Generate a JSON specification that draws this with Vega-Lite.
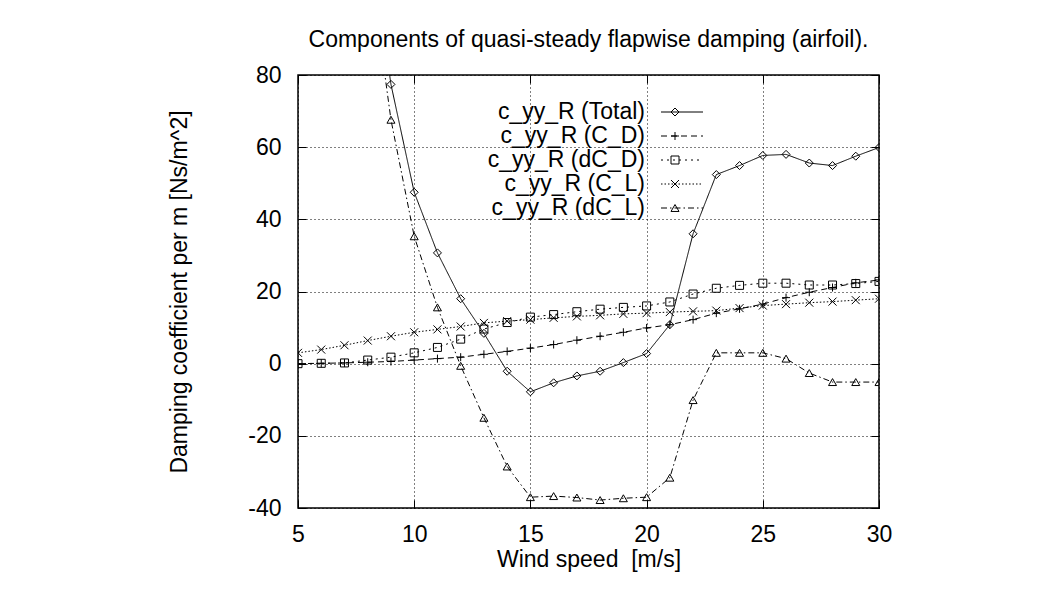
{
  "$schema": "https://vega.github.io/schema/vega-lite/v6.json",
  "width": 581,
  "height": 433,
  "autosize": {"type": "none"},
  "padding": {"left": 298, "top": 75, "right": 178, "bottom": 101},
  "background": "white",
  "title": {
    "text": "Components of quasi-steady flapwise damping (airfoil).",
    "font": "Liberation Sans",
    "fontSize": 23,
    "fontWeight": "normal",
    "color": "black",
    "anchor": "middle",
    "frame": "group",
    "offset": 12
  },
  "data": {
    "values": [
      {"speed": 5, "series": "c_yy_R (C_D)", "value": 0},
      {"speed": 6, "series": "c_yy_R (C_D)", "value": 0.1},
      {"speed": 7, "series": "c_yy_R (C_D)", "value": 0.2},
      {"speed": 8, "series": "c_yy_R (C_D)", "value": 0.4},
      {"speed": 9, "series": "c_yy_R (C_D)", "value": 0.6},
      {"speed": 10, "series": "c_yy_R (C_D)", "value": 1.0},
      {"speed": 11, "series": "c_yy_R (C_D)", "value": 1.4},
      {"speed": 12, "series": "c_yy_R (C_D)", "value": 1.8},
      {"speed": 13, "series": "c_yy_R (C_D)", "value": 2.6},
      {"speed": 14, "series": "c_yy_R (C_D)", "value": 3.4},
      {"speed": 15, "series": "c_yy_R (C_D)", "value": 4.3},
      {"speed": 16, "series": "c_yy_R (C_D)", "value": 5.3},
      {"speed": 17, "series": "c_yy_R (C_D)", "value": 6.5},
      {"speed": 18, "series": "c_yy_R (C_D)", "value": 7.6},
      {"speed": 19, "series": "c_yy_R (C_D)", "value": 8.7},
      {"speed": 20, "series": "c_yy_R (C_D)", "value": 9.9},
      {"speed": 21, "series": "c_yy_R (C_D)", "value": 10.8},
      {"speed": 22, "series": "c_yy_R (C_D)", "value": 12.2},
      {"speed": 23, "series": "c_yy_R (C_D)", "value": 14.0},
      {"speed": 24, "series": "c_yy_R (C_D)", "value": 15.2},
      {"speed": 25, "series": "c_yy_R (C_D)", "value": 16.5},
      {"speed": 26, "series": "c_yy_R (C_D)", "value": 18.3},
      {"speed": 27, "series": "c_yy_R (C_D)", "value": 19.8},
      {"speed": 28, "series": "c_yy_R (C_D)", "value": 21.1},
      {"speed": 29, "series": "c_yy_R (C_D)", "value": 22.4},
      {"speed": 30, "series": "c_yy_R (C_D)", "value": 23.2},

      {"speed": 5, "series": "c_yy_R (dC_D)", "value": 0},
      {"speed": 6, "series": "c_yy_R (dC_D)", "value": 0.1},
      {"speed": 7, "series": "c_yy_R (dC_D)", "value": 0.2},
      {"speed": 8, "series": "c_yy_R (dC_D)", "value": 1.0},
      {"speed": 9, "series": "c_yy_R (dC_D)", "value": 1.8},
      {"speed": 10, "series": "c_yy_R (dC_D)", "value": 3.0},
      {"speed": 11, "series": "c_yy_R (dC_D)", "value": 4.5},
      {"speed": 12, "series": "c_yy_R (dC_D)", "value": 6.8},
      {"speed": 13, "series": "c_yy_R (dC_D)", "value": 9.6},
      {"speed": 14, "series": "c_yy_R (dC_D)", "value": 11.4},
      {"speed": 15, "series": "c_yy_R (dC_D)", "value": 12.9},
      {"speed": 16, "series": "c_yy_R (dC_D)", "value": 13.6},
      {"speed": 17, "series": "c_yy_R (dC_D)", "value": 14.4},
      {"speed": 18, "series": "c_yy_R (dC_D)", "value": 15.1},
      {"speed": 19, "series": "c_yy_R (dC_D)", "value": 15.6},
      {"speed": 20, "series": "c_yy_R (dC_D)", "value": 16.0},
      {"speed": 21, "series": "c_yy_R (dC_D)", "value": 17.1},
      {"speed": 22, "series": "c_yy_R (dC_D)", "value": 19.3},
      {"speed": 23, "series": "c_yy_R (dC_D)", "value": 20.9},
      {"speed": 24, "series": "c_yy_R (dC_D)", "value": 21.7},
      {"speed": 25, "series": "c_yy_R (dC_D)", "value": 22.3},
      {"speed": 26, "series": "c_yy_R (dC_D)", "value": 22.3},
      {"speed": 27, "series": "c_yy_R (dC_D)", "value": 21.8},
      {"speed": 28, "series": "c_yy_R (dC_D)", "value": 21.8},
      {"speed": 29, "series": "c_yy_R (dC_D)", "value": 22.2},
      {"speed": 30, "series": "c_yy_R (dC_D)", "value": 22.8},

      {"speed": 5, "series": "c_yy_R (C_L)", "value": 3.0},
      {"speed": 6, "series": "c_yy_R (C_L)", "value": 3.9},
      {"speed": 7, "series": "c_yy_R (C_L)", "value": 5.1},
      {"speed": 8, "series": "c_yy_R (C_L)", "value": 6.4},
      {"speed": 9, "series": "c_yy_R (C_L)", "value": 7.6},
      {"speed": 10, "series": "c_yy_R (C_L)", "value": 8.7},
      {"speed": 11, "series": "c_yy_R (C_L)", "value": 9.5},
      {"speed": 12, "series": "c_yy_R (C_L)", "value": 10.3},
      {"speed": 13, "series": "c_yy_R (C_L)", "value": 11.3},
      {"speed": 14, "series": "c_yy_R (C_L)", "value": 11.8},
      {"speed": 15, "series": "c_yy_R (C_L)", "value": 12.2},
      {"speed": 16, "series": "c_yy_R (C_L)", "value": 12.7},
      {"speed": 17, "series": "c_yy_R (C_L)", "value": 13.1},
      {"speed": 18, "series": "c_yy_R (C_L)", "value": 13.4},
      {"speed": 19, "series": "c_yy_R (C_L)", "value": 13.8},
      {"speed": 20, "series": "c_yy_R (C_L)", "value": 14.0},
      {"speed": 21, "series": "c_yy_R (C_L)", "value": 14.3},
      {"speed": 22, "series": "c_yy_R (C_L)", "value": 14.5},
      {"speed": 23, "series": "c_yy_R (C_L)", "value": 14.7},
      {"speed": 24, "series": "c_yy_R (C_L)", "value": 15.4},
      {"speed": 25, "series": "c_yy_R (C_L)", "value": 16.1},
      {"speed": 26, "series": "c_yy_R (C_L)", "value": 16.5},
      {"speed": 27, "series": "c_yy_R (C_L)", "value": 16.9},
      {"speed": 28, "series": "c_yy_R (C_L)", "value": 17.2},
      {"speed": 29, "series": "c_yy_R (C_L)", "value": 17.6},
      {"speed": 30, "series": "c_yy_R (C_L)", "value": 18.0},

      {"speed": 8, "series": "c_yy_R (dC_L)", "value": 115},
      {"speed": 9, "series": "c_yy_R (dC_L)", "value": 67.6},
      {"speed": 10, "series": "c_yy_R (dC_L)", "value": 35.3},
      {"speed": 11, "series": "c_yy_R (dC_L)", "value": 15.6},
      {"speed": 12, "series": "c_yy_R (dC_L)", "value": -0.6},
      {"speed": 13, "series": "c_yy_R (dC_L)", "value": -15.0},
      {"speed": 14, "series": "c_yy_R (dC_L)", "value": -28.5},
      {"speed": 15, "series": "c_yy_R (dC_L)", "value": -37.0},
      {"speed": 16, "series": "c_yy_R (dC_L)", "value": -36.7},
      {"speed": 17, "series": "c_yy_R (dC_L)", "value": -37.1},
      {"speed": 18, "series": "c_yy_R (dC_L)", "value": -37.8},
      {"speed": 19, "series": "c_yy_R (dC_L)", "value": -37.3},
      {"speed": 20, "series": "c_yy_R (dC_L)", "value": -37.0},
      {"speed": 21, "series": "c_yy_R (dC_L)", "value": -31.6},
      {"speed": 22, "series": "c_yy_R (dC_L)", "value": -10.1},
      {"speed": 23, "series": "c_yy_R (dC_L)", "value": 3.0},
      {"speed": 24, "series": "c_yy_R (dC_L)", "value": 3.0},
      {"speed": 25, "series": "c_yy_R (dC_L)", "value": 3.0},
      {"speed": 26, "series": "c_yy_R (dC_L)", "value": 1.4},
      {"speed": 27, "series": "c_yy_R (dC_L)", "value": -2.6},
      {"speed": 28, "series": "c_yy_R (dC_L)", "value": -5.1},
      {"speed": 29, "series": "c_yy_R (dC_L)", "value": -5.1},
      {"speed": 30, "series": "c_yy_R (dC_L)", "value": -5.1},

      {"speed": 8, "series": "c_yy_R (Total)", "value": 122.7},
      {"speed": 9, "series": "c_yy_R (Total)", "value": 77.4},
      {"speed": 10, "series": "c_yy_R (Total)", "value": 47.5},
      {"speed": 11, "series": "c_yy_R (Total)", "value": 30.7},
      {"speed": 12, "series": "c_yy_R (Total)", "value": 18.0},
      {"speed": 13, "series": "c_yy_R (Total)", "value": 8.4},
      {"speed": 14, "series": "c_yy_R (Total)", "value": -2.1},
      {"speed": 15, "series": "c_yy_R (Total)", "value": -7.8},
      {"speed": 16, "series": "c_yy_R (Total)", "value": -5.3},
      {"speed": 17, "series": "c_yy_R (Total)", "value": -3.4},
      {"speed": 18, "series": "c_yy_R (Total)", "value": -2.1},
      {"speed": 19, "series": "c_yy_R (Total)", "value": 0.3},
      {"speed": 20, "series": "c_yy_R (Total)", "value": 2.8},
      {"speed": 21, "series": "c_yy_R (Total)", "value": 10.8},
      {"speed": 22, "series": "c_yy_R (Total)", "value": 36.0},
      {"speed": 23, "series": "c_yy_R (Total)", "value": 52.4},
      {"speed": 24, "series": "c_yy_R (Total)", "value": 54.9},
      {"speed": 25, "series": "c_yy_R (Total)", "value": 57.7},
      {"speed": 26, "series": "c_yy_R (Total)", "value": 58.0},
      {"speed": 27, "series": "c_yy_R (Total)", "value": 55.6},
      {"speed": 28, "series": "c_yy_R (Total)", "value": 54.9},
      {"speed": 29, "series": "c_yy_R (Total)", "value": 57.5},
      {"speed": 30, "series": "c_yy_R (Total)", "value": 59.9}
    ]
  },
  "layer": [
    {
      "mark": {"type": "line", "clip": true, "color": "black", "strokeWidth": 1},
      "encoding": {
        "x": {
          "field": "speed", "type": "quantitative",
          "scale": {"domain": [5, 30], "nice": false, "zero": false},
          "axis": {
            "orient": "bottom",
            "values": [5, 10, 15, 20, 25, 30],
            "title": "Wind speed\u00a0\u00a0[m/s]",
            "titlePadding": 2,
            "labelPadding": 23,
            "tickSize": -8,
            "grid": true
          }
        },
        "y": {
          "field": "value", "type": "quantitative",
          "scale": {"domain": [-40, 80], "nice": false, "zero": false},
          "axis": {
            "orient": "left",
            "values": [-40, -20, 0, 20, 40, 60, 80],
            "labelExpr": "'' + datum.value",
            "title": "Damping coefficient per m [Ns/m^2]",
            "titlePadding": 56,
            "labelPadding": 25,
            "tickSize": -8,
            "grid": true
          }
        },
        "strokeDash": {
          "field": "series", "type": "nominal",
          "scale": {
            "domain": ["c_yy_R (Total)", "c_yy_R (C_D)", "c_yy_R (dC_D)", "c_yy_R (C_L)", "c_yy_R (dC_L)"],
            "range": [[1, 0], [6, 4], [2, 4], [1.5, 2], [6, 3, 1.5, 3]]
          },
          "legend": {
            "orient": "none",
            "legendX": 372.5,
            "legendY": 25.5,
            "title": null,
            "symbolType": "M-2,0L2,0",
            "symbolSize": 441,
            "symbolStrokeWidth": 1,
            "symbolStrokeColor": "black",
            "symbolFillColor": "transparent",
            "labelAlign": "right",
            "labelOffset": -48.5,
            "labelLimit": 400,
            "rowPadding": 0,
            "padding": 0
          }
        },
        "order": {"field": "speed", "type": "quantitative"}
      }
    },
    {
      "mark": {"type": "point", "clip": true, "filled": false, "color": "black", "strokeWidth": 1, "size": 64, "opacity": 1},
      "encoding": {
        "x": {
          "field": "speed", "type": "quantitative",
          "axis": {
            "orient": "top",
            "values": [5, 10, 15, 20, 25, 30],
            "labels": false,
            "title": null,
            "grid": false,
            "tickSize": -8
          }
        },
        "y": {
          "field": "value", "type": "quantitative",
          "axis": {
            "orient": "right",
            "values": [-40, -20, 0, 20, 40, 60, 80],
            "labels": false,
            "title": null,
            "grid": false,
            "tickSize": -8
          }
        },
        "shape": {
          "field": "series", "type": "nominal",
          "sort": ["c_yy_R (Total)", "c_yy_R (C_D)", "c_yy_R (dC_D)", "c_yy_R (C_L)", "c_yy_R (dC_L)"],
          "scale": {
            "range": ["diamond", "M-1,0L1,0M0,-1L0,1", "square", "M-1,-1L1,1M-1,1L1,-1", "triangle-up"]
          },
          "legend": {
            "orient": "none",
            "legendX": 365.5,
            "legendY": 25.5,
            "title": null,
            "symbolSize": 64,
            "symbolStrokeWidth": 1,
            "symbolStrokeColor": "black",
            "symbolFillColor": "transparent",
            "labelColor": "transparent",
            "rowPadding": 0,
            "padding": 0
          }
        }
      }
    }
  ],
  "resolve": {"axis": {"x": "independent", "y": "independent"}},
  "config": {
    "font": "Liberation Sans",
    "view": {"stroke": "black", "strokeWidth": 1.5},
    "axis": {
      "domain": false,
      "ticks": true,
      "tickColor": "black",
      "tickWidth": 1,
      "labelFont": "Liberation Sans",
      "labelFontSize": 23,
      "labelColor": "black",
      "labelFlush": false,
      "labelOverlap": false,
      "titleFont": "Liberation Sans",
      "titleFontSize": 23,
      "titleFontWeight": "normal",
      "titleColor": "black",
      "gridColor": "black",
      "gridDash": [1, 3],
      "gridWidth": 1,
      "gridOpacity": 1
    },
    "legend": {
      "labelFont": "Liberation Sans",
      "labelFontSize": 23,
      "labelColor": "black"
    }
  }
}
